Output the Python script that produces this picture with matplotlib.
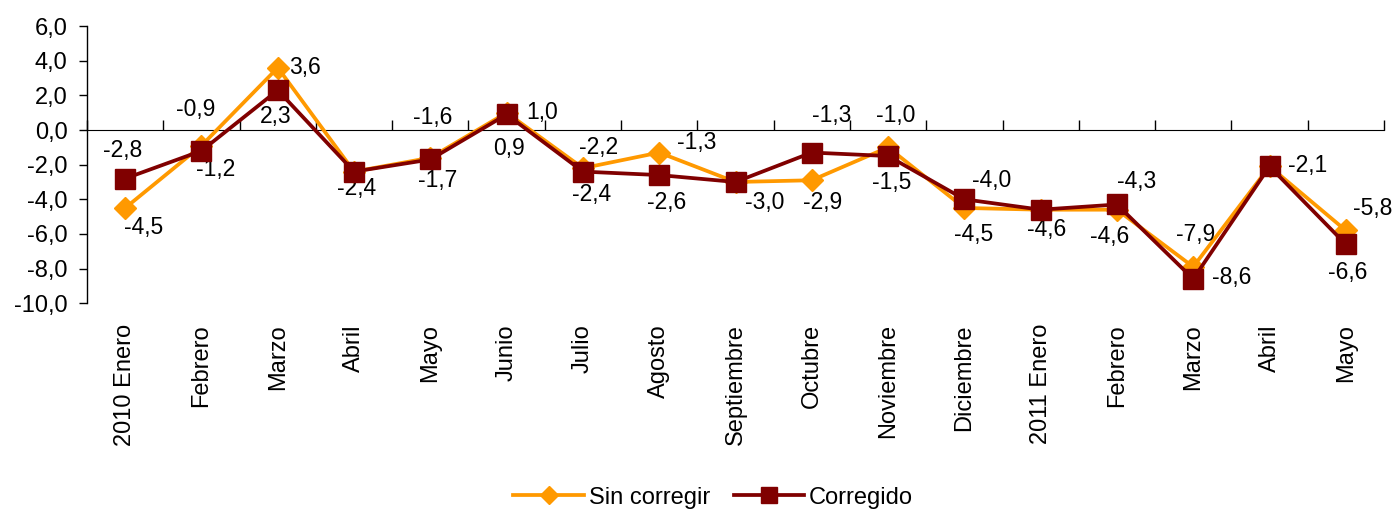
import matplotlib.pyplot as plt
import numpy as np

plt.rcParams['font.family'] = ['Liberation Sans', 'DejaVu Sans']

# meses (eje x)
meses = ['2010 Enero', 'Febrero', 'Marzo', 'Abril', 'Mayo', 'Junio', 'Julio',
         'Agosto', 'Septiembre', 'Octubre', 'Noviembre', 'Diciembre',
         '2011 Enero', 'Febrero', 'Marzo', 'Abril', 'Mayo']

sin_corregir = [-4.5, -0.9, 3.6, -2.4, -1.6, 1.0, -2.2, -1.3, -3.0, -2.9,
                -1.0, -4.5, -4.6, -4.6, -7.9, -2.1, -5.8]
corregido = [-2.8, -1.2, 2.3, -2.4, -1.7, 0.9, -2.4, -2.6, -3.0, -1.3,
             -1.5, -4.0, -4.6, -4.3, -8.6, -2.1, -6.6]

# desplazamiento de las etiquetas (pixeles)
off_sin = [(18, -20), (-6, 36), (27, 0), (2, -17), (2, 40), (35, 0), (16, 21),
           (37, 10), (29, -21), (11, -22), (8, 32), (9, -27), (6, -20),
           (-7, -27), (2, 32), (38, 1), (27, 22)]
off_cor = [(-3, 28), (14, -19), (-2, -26), (2, -17), (7, -21), (2, -34),
           (9, -23), (7, -27), (29, -21), (20, 37), (4, -26), (27, 19),
           (6, -20), (20, 23), (38, 1), (38, 1), (2, -28)]

naranja = '#FF9900'
granate = '#800000'
fs = 17

fig = plt.figure(figsize=(13.93, 5.13), dpi=100)
ax = fig.add_axes([0.0625, 0.409, 0.931, 0.540])

x = np.arange(len(meses))
ax.plot(x, sin_corregir, color=naranja, lw=2.7, marker='D', ms=11,
        label='Sin corregir', zorder=3)
ax.plot(x, corregido, color=granate, lw=2.7, marker='s', ms=14,
        label='Corregido', zorder=4)

def fmt(v):
    return ('%.1f' % v).replace('.', ',')

for xi, v, w, o in zip(x, sin_corregir, corregido, off_sin):
    if v == w:
        continue  # misma etiqueta que la serie corregida
    ax.annotate(fmt(v), (xi, v), xytext=o, textcoords='offset pixels',
                ha='center', va='center', fontsize=16.5)
for xi, v, o in zip(x, corregido, off_cor):
    ax.annotate(fmt(v), (xi, v), xytext=o, textcoords='offset pixels',
                ha='center', va='center', fontsize=16.5)

ymin, ymax = -10, 6
ax.set_ylim(ymin, ymax)
ax.set_xlim(-0.5, len(meses) - 0.5)
yt = np.arange(ymin, ymax + 1, 2)
ax.set_yticks(yt)
ax.set_yticklabels([fmt(v) for v in yt], fontsize=fs)
ax.tick_params(axis='y', direction='out', length=6, width=1, pad=8)

# etiquetas de meses abajo
ax.set_xticks(x)
ax.set_xticklabels(meses, rotation=90, fontsize=fs)
ax.tick_params(axis='x', length=0, pad=15)

for s in ['top', 'right', 'bottom']:
    ax.spines[s].set_visible(False)
ax.spines['left'].set_linewidth(1)

# linea del cero con marcas entre categorias
cero = (0 - ymin) / (ymax - ymin)
sec = ax.secondary_xaxis(cero)
sec.set_xticks(np.arange(len(meses) + 1) - 0.5)
sec.set_xticklabels([])
sec.tick_params(direction='out', length=7, width=1)
sec.spines['bottom'].set_linewidth(1)

fig.legend(loc='center', bbox_to_anchor=(0.512, 0.03), ncol=2, frameon=False,
           fontsize=fs, handlelength=3.0, columnspacing=1.0, handletextpad=0.2,
           markerscale=0.85, borderpad=0.1)

fig.savefig('out.png', dpi=100)
